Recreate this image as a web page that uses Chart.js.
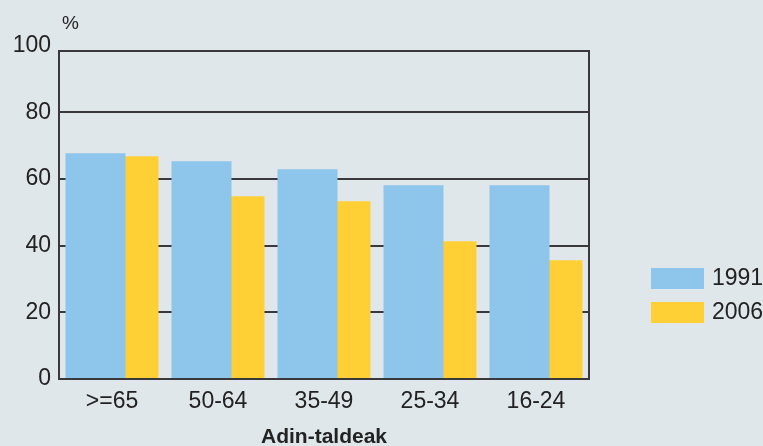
<!DOCTYPE html>
<html>
<head>
<meta charset="utf-8">
<script src="https://cdn.jsdelivr.net/npm/chart.js@4"></script>
<style>
  html, body { margin: 0; padding: 0; background: #e0e7eb; }
  #wrap { width: 763px; height: 446px; position: relative; }
</style>
</head>
<body>
<div id="wrap"><canvas id="grafikoa"></canvas></div>
<script>
// Datuak (irudiaren arabera irakurriak)
const taldeak = [">=65", "50-64", "35-49", "25-34", "16-24"];
const urteak = ["1991", "2006"];
const balio1991 = [67.7, 65.3, 62.9, 58.1, 58.1];
const balio2006 = [66.8, 54.8, 53.3, 41.3, 35.6];
const yTikak = [0, 20, 40, 60, 80, 100];

const koloreak = ["#8ec5eb", "#ffd035"];
const letra = "'Liberation Sans', Arial, sans-serif";
const marra = "#39393b";

// Markoa, "%" eta legenda eskuz marrazteko
const apaingarriak = {
  id: "apaingarriak",
  afterDraw(chart) {
    const { ctx, chartArea: a } = chart;
    ctx.save();
    ctx.strokeStyle = marra;
    ctx.lineWidth = 2;
    ctx.strokeRect(a.left, a.top, a.right - a.left, a.bottom - a.top);

    ctx.fillStyle = "#222";
    ctx.font = "19px " + letra;
    ctx.textBaseline = "middle";
    ctx.textAlign = "left";
    ctx.fillText("%", a.left + 3, 24);

    // legenda
    ctx.font = "23px " + letra;
    chart.data.datasets.forEach((ds, i) => {
      const y = 268 + i * 34;
      ctx.fillStyle = ds.backgroundColor;
      ctx.fillRect(a.right + 62, y, 53, 21);
      ctx.fillStyle = "#222";
      ctx.fillText(ds.label, a.right + 123, y + 11);
    });
    ctx.restore();
  },
};

new Chart(document.getElementById("grafikoa"), {
  type: "bar",
  data: {
    labels: taldeak,
    datasets: [
      { label: urteak[0], data: balio1991, backgroundColor: koloreak[0] },
      { label: urteak[1], data: balio2006, backgroundColor: koloreak[1] },
    ],
  },
  options: {
    responsive: true,
    maintainAspectRatio: false,
    animation: false,
    categoryPercentage: 66 / 106,
    barPercentage: 60 / 33,
    layout: { padding: { top: 51, right: 174, left: 0, bottom: 0 } },
    plugins: {
      legend: { display: false },
      tooltip: { enabled: false },
    },
    scales: {
      x: {
        grid: { display: false, drawTicks: false },
        border: { display: true, color: marra, width: 2 },
        ticks: { color: "#222", font: { family: letra, size: 23 }, padding: 9 },
        title: {
          display: true,
          text: "Adin-taldeak",
          color: "#222",
          font: { family: letra, size: 21, weight: "bold", lineHeight: 1 },
          padding: { top: 0, bottom: -2 },
        },
        afterFit: (s) => { s.height = 67; },
      },
      y: {
        // markoaren goiko ertza 100 baino apur bat beherago dago
        min: 0,
        max: 98.4,
        afterBuildTicks: (s) => { s.ticks = yTikak.map((v) => ({ value: v })); },
        grid: {
          color: (c) => (c.tick && c.tick.value > 98.4 ? "rgba(0,0,0,0)" : marra),
          lineWidth: 2,
          drawTicks: false,
        },
        border: { display: true, color: marra, width: 2 },
        ticks: { color: "#222", font: { family: letra, size: 23 }, padding: 8 },
        afterFit: (s) => { s.width = 59; },
      },
    },
  },
  plugins: [apaingarriak],
});
</script>
</body>
</html>
